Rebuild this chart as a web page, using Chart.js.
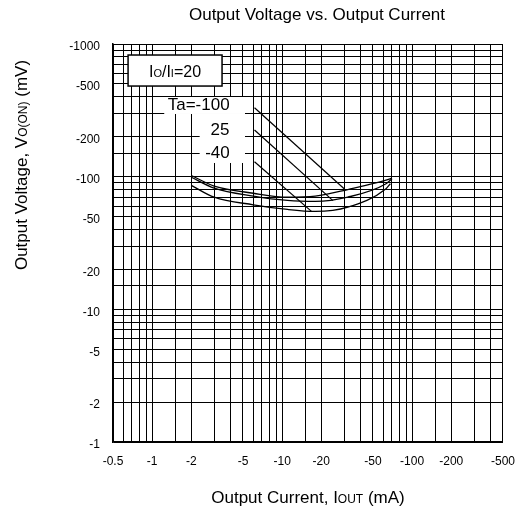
<!DOCTYPE html>
<html><head><meta charset="utf-8">
<script src="https://cdn.jsdelivr.net/npm/chart.js@4.4.1/dist/chart.umd.min.js"></script>
<style>html,body{margin:0;padding:0;background:#fff;}canvas{display:block;}</style>
</head><body>
<canvas id="c" width="527" height="508"></canvas>
<script>
const FONT = "'Liberation Sans', Arial, sans-serif";

// Tick labels (mA and mV, negative values)
const xTickLabels = [-0.5, -1, -2, -5, -10, -20, -50, -100, -200, -500];
const yTickLabels = [-1, -2, -5, -10, -20, -50, -100, -200, -500, -1000];

// Series: output current (mA) and output voltage (mV)
const seriesNames = ['Ta=-100', '25', '-40'];
const currentTaM100 = [-2, -3, -6, -11, -18, -32, -63, -70];
const voltageTaM100 = [-102, -85, -75, -70, -71.4, -80, -94, -97.6];
const currentTa25 = [-2, -3, -6, -11, -18, -32, -63, -70];
const voltageTa25 = [-99, -82, -71.4, -66.2, -65.1, -70.1, -88.5, -96.6];
const currentTaM40 = [-2, -3, -6, -11, -18, -32, -63, -68];
const voltageTaM40 = [-86, -70, -61.4, -56.6, -54.7, -58.9, -81.2, -88.5];

const mag = (cur, volt) => cur.map((c, i) => ({ x: Math.abs(c), y: Math.abs(volt[i]) }));

// Annotation anchors in data (magnitude) coordinates
const ratioBox = { x1: 0.653, y1: 826, x2: 3.45, y2: 482, tx: 1.5, ty: 631 };
const labelRects = [[1.239, 398.6, 5.18, 296.8], [2.32, 296.8, 5.18, 126.8]];
const labelPos = [[2.28, 346.8], [3.33, 224.7], [3.18, 150]];
const leaders = [[6.13, 331, 30, 81], [6.13, 224.7, 24.6, 66], [6.13, 129.7, 16.9, 54.5]];

function drawRich(ctx, parts, cx, base) {
  let total = 0;
  const widths = parts.map(([t, s]) => { ctx.font = s + 'px ' + FONT; const w = ctx.measureText(t).width; total += w; return w; });
  let xx = cx - total / 2;
  ctx.textAlign = 'left'; ctx.textBaseline = 'alphabetic';
  parts.forEach(([t, s], i) => { ctx.font = s + 'px ' + FONT; ctx.fillText(t, xx, base); xx += widths[i]; });
}

const overlay = {
  id: 'overlay',
  afterDraw(chart) {
    const { ctx, scales: { x, y }, chartArea } = chart;
    const P = (a, b) => [x.getPixelForValue(a), y.getPixelForValue(b)];
    ctx.save();
    ctx.fillStyle = '#000';
    // main title
    ctx.font = '17px ' + FONT; ctx.textAlign = 'center'; ctx.textBaseline = 'middle';
    ctx.fillText('Output Voltage vs. Output Current', 317, 15);
    // x title
    drawRich(ctx, [['Output Current, I', 17], ['OUT', 12], [' (mA)', 17]], (chartArea.left + chartArea.right) / 2, 503);
    // y title
    ctx.save();
    ctx.translate(27, 165); ctx.rotate(-Math.PI / 2);
    drawRich(ctx, [['Output Voltage, V', 17], ['O(ON)', 12], [' (mV)', 17]], 0, 0);
    ctx.restore();

    // white backgrounds behind the temperature labels
    ctx.fillStyle = '#fff';
    labelRects.forEach(r => { const [a, b] = P(r[0], r[1]); const [c, d] = P(r[2], r[3]); ctx.fillRect(a, b, c - a, d - b); });
    // ratio box
    const [bx1, by1] = P(ratioBox.x1, ratioBox.y1); const [bx2, by2] = P(ratioBox.x2, ratioBox.y2);
    ctx.fillRect(bx1, by1, bx2 - bx1, by2 - by1);
    ctx.strokeStyle = '#000'; ctx.lineWidth = 1.5;
    ctx.strokeRect(bx1, by1, bx2 - bx1, by2 - by1);
    ctx.fillStyle = '#000';
    const [tx, ty] = P(ratioBox.tx, ratioBox.ty);
    drawRich(ctx, [['I', 16], ['O', 11], ['/I', 16], ['I', 11], ['=20', 16]], tx, ty + 6);
    // temperature labels
    ctx.font = '17px ' + FONT; ctx.textAlign = 'center'; ctx.textBaseline = 'middle';
    labelPos.forEach((p, i) => { const [a, b] = P(p[0], p[1]); ctx.fillText(seriesNames[i], a, b); });
    // leader lines
    ctx.lineWidth = 1.2;
    leaders.forEach(l => { const [a, b] = P(l[0], l[1]); const [c, d] = P(l[2], l[3]); ctx.beginPath(); ctx.moveTo(a, b); ctx.lineTo(c, d); ctx.stroke(); });
    ctx.restore();
  }
};

const near = (v, arr) => arr.some(a => Math.abs(Math.abs(a) - v) < 1e-9 * Math.max(1, v));
const lineStyle = { borderColor: '#000', borderWidth: 1.3, pointRadius: 0, fill: false, cubicInterpolationMode: 'monotone' };

new Chart(document.getElementById('c'), {
  type: 'line',
  data: {
    datasets: [
      Object.assign({ label: seriesNames[0], data: mag(currentTaM100, voltageTaM100) }, lineStyle),
      Object.assign({ label: seriesNames[1], data: mag(currentTa25, voltageTa25) }, lineStyle),
      Object.assign({ label: seriesNames[2], data: mag(currentTaM40, voltageTaM40) }, lineStyle)
    ]
  },
  options: {
    responsive: false,
    animation: false,
    devicePixelRatio: 1,
    layout: { padding: { top: 44, right: 18, left: 0, bottom: 0 } },
    plugins: { legend: { display: false }, tooltip: { enabled: false }, title: { display: false } },
    scales: {
      x: {
        type: 'logarithmic',
        min: Math.abs(xTickLabels[0]), max: Math.abs(xTickLabels[xTickLabels.length - 1]),
        grid: { color: '#000', lineWidth: 1, drawTicks: false },
        border: { color: '#000', width: 1.5 },
        ticks: {
          autoSkip: false, maxRotation: 0, padding: 12, color: '#000',
          font: { family: FONT, size: 12 },
          callback: v => near(v, xTickLabels) ? '-' + v : ''
        },
        afterFit: s => { s.height = 66; }
      },
      y: {
        type: 'logarithmic',
        min: Math.abs(yTickLabels[0]), max: Math.abs(yTickLabels[yTickLabels.length - 1]),
        grid: { color: '#000', lineWidth: 1, drawTicks: false },
        border: { color: '#000', width: 1.5 },
        ticks: {
          autoSkip: false, padding: 13, color: '#000', labelOffset: 3,
          font: { family: FONT, size: 12 },
          callback: v => near(v, yTickLabels) ? '-' + v : ''
        },
        afterFit: s => { s.width = 113; }
      }
    }
  },
  plugins: [overlay]
});
</script>
</body></html>
